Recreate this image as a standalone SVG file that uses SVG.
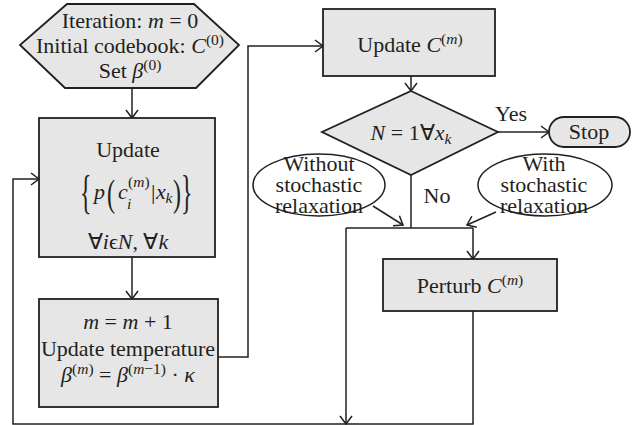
<svg xmlns="http://www.w3.org/2000/svg" width="637" height="425" viewBox="0 0 637 425" font-family="Liberation Serif, serif">
<defs>
<style>
.node{fill:#e6e6e6;stroke:#231f20;stroke-width:1.8}
.ell{fill:#ffffff;stroke:#231f20;stroke-width:1.5}
.t{font-family:'Liberation Serif',serif;font-size:22px;fill:#231f20;text-anchor:middle}
.s{text-anchor:start}
.i{font-style:italic}
.sm{font-size:15.5px}
.br{font-size:24px}
.c{fill:none;stroke:#231f20;stroke-width:1.5}
</style>
<marker id="ah" markerUnits="userSpaceOnUse" markerWidth="12" markerHeight="14" refX="9" refY="7" orient="auto" viewBox="0 0 12 14">
<path d="M1,1 L9,7 L1,13" fill="none" stroke="#231f20" stroke-width="1.5"/>
</marker>
</defs>
<rect width="637" height="425" fill="#ffffff"/>
<g id="connectors">
<path class="c" d="M132,88 L132,118" marker-end="url(#ah)"/>
<path class="c" d="M132,257 L132,299" marker-end="url(#ah)"/>
<path class="c" d="M218,357 L248,357 L248,46 L323,46" marker-end="url(#ah)"/>
<path class="c" d="M411,76 L411,91" marker-end="url(#ah)"/>
<path class="c" d="M498,132 L549,132" marker-end="url(#ah)"/>
<path class="c" d="M411,175 L411,228"/>
<path class="c" d="M346,228 L473,228"/>
<path class="c" d="M473,228 L473,259" marker-end="url(#ah)"/>
<path class="c" d="M346,228 L346,424" marker-end="url(#ah)"/>
<path class="c" d="M473,311 L473,424 L13,424 L13,179 L39,179" marker-end="url(#ah)"/>
<path class="c" d="M373,206 L403,225" marker-end="url(#ah)"/>
<path class="c" d="M496,212 L467,225" marker-end="url(#ah)"/>
</g>
<g id="init">
<polygon class="node" points="67,4 194,4 239,45 196,88 65,88 20,45"/>
<text class="t" x="130" y="28">Iteration: <tspan class="i">m</tspan> = 0</text>
<text class="t" x="130" y="53">Initial codebook: <tspan class="i">C</tspan><tspan class="sm" dy="-8">(0)</tspan></text>
<text class="t" x="130" y="78">Set <tspan class="i">β</tspan><tspan class="sm" dy="-8">(0)</tspan></text>
</g>
<g id="update-p">
<rect class="node" x="39" y="118" width="176" height="139"/>
<text class="t" x="128" y="157">Update</text>
<text class="t s br" transform="translate(80,208) scale(1,1.9)">{</text>
<text class="t s i" x="94" y="199">p</text>
<text class="t s br" transform="translate(107,206) scale(1,1.6)">(</text>
<text class="t s i" x="118" y="199">c</text>
<text class="t s i sm" x="127" y="209">i</text>
<text class="t s sm" x="128" y="187">(<tspan class="i">m</tspan>)</text>
<text class="t s" x="151" y="199">|</text>
<text class="t s i" x="156" y="199">x</text>
<text class="t s i sm" x="165.5" y="203">k</text>
<text class="t s br" transform="translate(173,206) scale(1,1.6)">)</text>
<text class="t s br" transform="translate(181,208) scale(1,1.9)">}</text>
<text class="t" x="128" y="249">∀<tspan class="i">i</tspan>ϵ<tspan class="i">N</tspan>, ∀<tspan class="i">k</tspan></text>
</g>
<g id="update-temp">
<rect class="node" x="39" y="299" width="179" height="108"/>
<text class="t" x="128" y="329"><tspan class="i">m</tspan> = <tspan class="i">m</tspan> + 1</text>
<text class="t" x="128" y="356">Update temperature</text>
<text class="t" x="128" y="382"><tspan class="i">β</tspan><tspan class="sm" dy="-8">(<tspan class="i">m</tspan>)</tspan><tspan dy="8"> = </tspan><tspan class="i">β</tspan><tspan class="sm" dy="-8">(<tspan class="i">m</tspan>−1)</tspan><tspan dy="8"> · </tspan><tspan class="i">κ</tspan></text>
</g>
<g id="update-c">
<rect class="node" x="323" y="9" width="172" height="67"/>
<text class="t" x="410" y="52">Update <tspan class="i">C</tspan><tspan class="sm" dy="-8">(<tspan class="i">m</tspan>)</tspan></text>
</g>
<g id="decision">
<polygon class="node" points="411,91 498,132 411,175 322,132"/>
<text class="t" x="411" y="140"><tspan class="i">N</tspan> = 1∀<tspan class="i">x</tspan><tspan class="i sm" dy="4">k</tspan></text>
<text class="t" x="511" y="121">Yes</text>
<text class="t" x="437" y="203">No</text>
</g>
<g id="stop">
<rect class="node" x="549" y="117" width="81" height="30" rx="15" ry="15"/>
<text class="t" x="589" y="139">Stop</text>
</g>
<g id="without">
<ellipse class="ell" cx="319" cy="185" rx="66" ry="31"/>
<text class="t" x="319" y="171">Without</text>
<text class="t" x="319" y="192">stochastic</text>
<text class="t" x="319" y="213">relaxation</text>
</g>
<g id="with">
<ellipse class="ell" cx="545" cy="185" rx="67" ry="31"/>
<text class="t" x="544" y="171">With</text>
<text class="t" x="544" y="192">stochastic</text>
<text class="t" x="544" y="213">relaxation</text>
</g>
<g id="perturb">
<rect class="node" x="383" y="259" width="174" height="52"/>
<text class="t" x="470" y="293">Perturb <tspan class="i">C</tspan><tspan class="sm" dy="-8">(<tspan class="i">m</tspan>)</tspan></text>
</g>
</svg>
